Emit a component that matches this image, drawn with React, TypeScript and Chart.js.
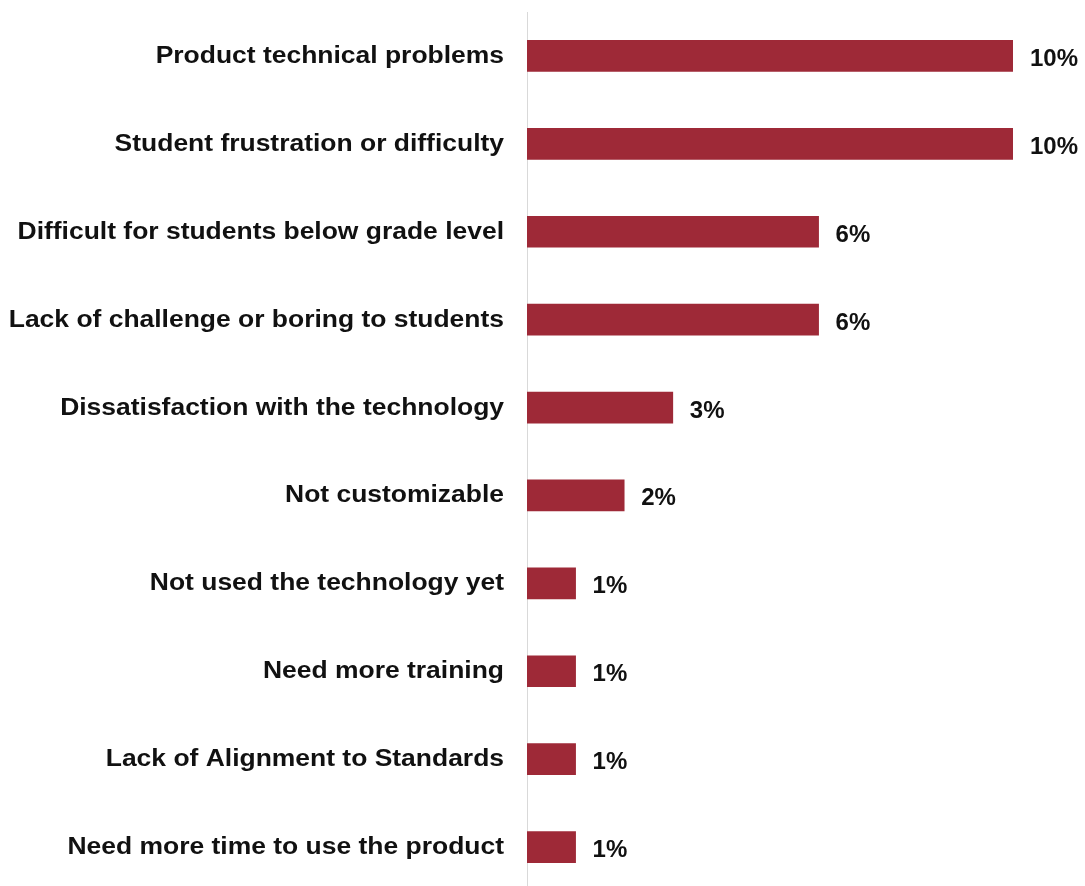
import React, { useEffect, useRef } from "react";
import { Chart, registerables } from "chart.js";

Chart.register(...registerables);

const categories = [
  "Product technical problems",
  "Student frustration or difficulty",
  "Difficult for students below grade level",
  "Lack of challenge or boring to students",
  "Dissatisfaction with the technology",
  "Not customizable",
  "Not used the technology yet",
  "Need more training",
  "Lack of Alignment to Standards",
  "Need more time to use the product",
];
const values = [10, 10, 6, 6, 3, 2, 1, 1, 1, 1];
const valueLabels = ["10%", "10%", "6%", "6%", "3%", "2%", "1%", "1%", "1%", "1%"];

const BAR_COLOR = "#9E2937";
const TEXT_COLOR = "#111111";
const FONT = "'Liberation Sans', Arial, sans-serif";

const labelPlugin = {
  id: "customLabels",
  afterDatasetsDraw(chart: any) {
    const ctx = chart.ctx;
    const meta = chart.getDatasetMeta(0);
    const yScale = chart.scales.y;
    ctx.save();
    ctx.fillStyle = TEXT_COLOR;
    ctx.textBaseline = "alphabetic";
    // value labels
    ctx.font = `bold 24px ${FONT}`;
    ctx.textAlign = "left";
    meta.data.forEach((bar: any, i: number) => {
      ctx.fillText(valueLabels[i], bar.x + 17, bar.y + 10);
    });
    // category labels (slightly wide lettering as in the reference)
    ctx.font = `bold 23px ${FONT}`;
    ctx.textAlign = "right";
    categories.forEach((label, i) => {
      const y = yScale.getPixelForTick(i);
      ctx.save();
      ctx.translate(yScale.right - 23, y + 7);
      ctx.scale(1.15, 1);
      ctx.fillText(label, 0, 0);
      ctx.restore();
    });
    ctx.restore();
  },
};

export default function App() {
  const ref = useRef<HTMLCanvasElement>(null);
  useEffect(() => {
    if (!ref.current) return;
    const chart = new Chart(ref.current, {
      type: "bar",
      data: {
        labels: categories,
        datasets: [
          {
            data: values,
            backgroundColor: BAR_COLOR,
            borderWidth: 0,
            barThickness: 31,
          },
        ],
      },
      options: {
        indexAxis: "y",
        responsive: false,
        animation: false,
        layout: { padding: { top: 12, right: 72, bottom: 0, left: 0 } },
        plugins: {
          legend: { display: false },
          tooltip: { enabled: false },
        },
        scales: {
          x: {
            display: false,
            min: 0,
            max: 10,
          },
          y: {
            grid: { display: false, drawTicks: false },
            border: { display: true, color: "#d9d9d9", width: 1 },
            afterFit: (scale: any) => {
              scale.width = 527;
            },
            ticks: { display: false, padding: 0 },
          },
        },
      },
      plugins: [labelPlugin],
    });
    return () => chart.destroy();
  }, []);
  return (
    <div
      style={{
        position: "fixed",
        top: 0,
        left: 0,
        width: 1085,
        height: 886,
        overflow: "hidden",
        background: "#ffffff",
      }}
    >
      <canvas ref={ref} width={1085} height={891} style={{ display: "block" }} />
    </div>
  );
}
